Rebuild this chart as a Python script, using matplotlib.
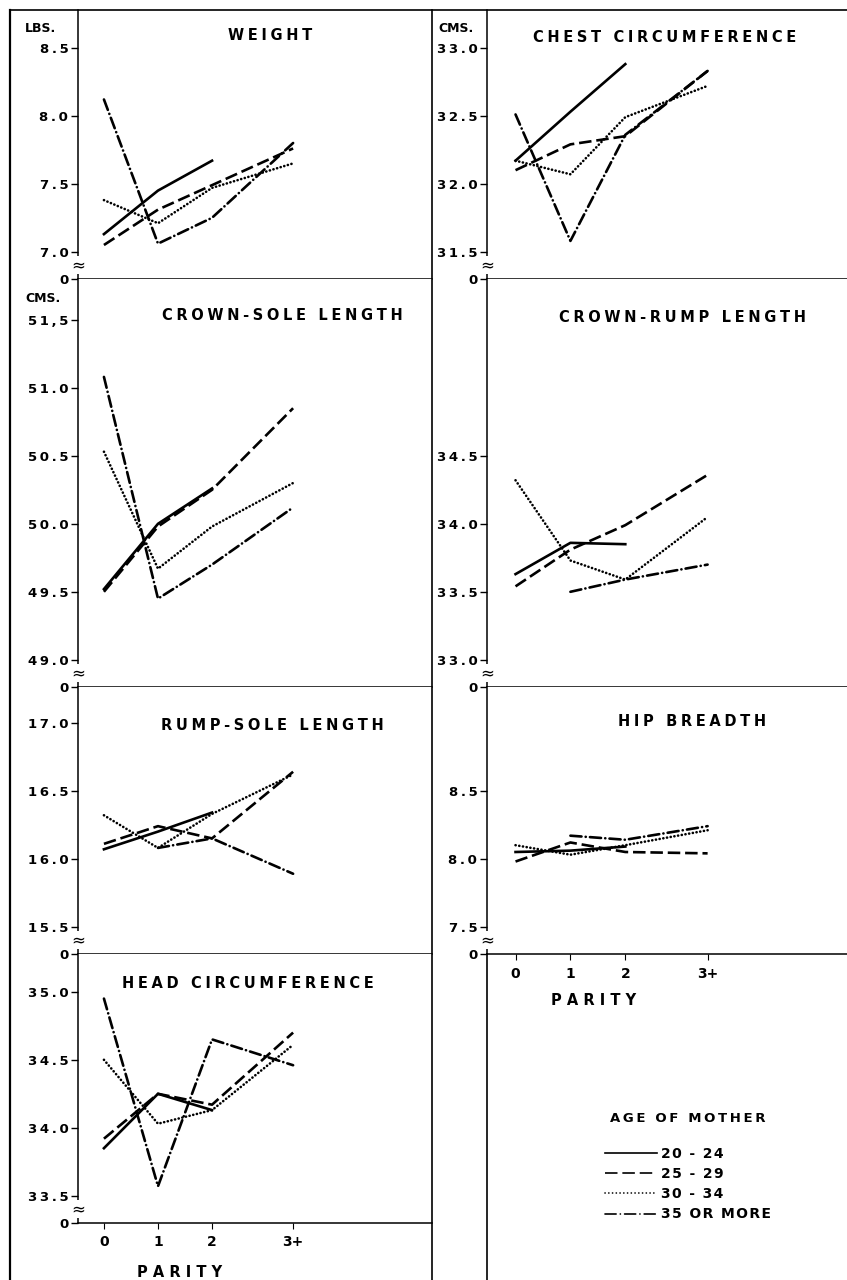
import numpy as np
import matplotlib
matplotlib.use("Agg")
import matplotlib.pyplot as plt
from matplotlib.lines import Line2D

# parity groups; the 3+ group sits further out on the axis, like the original
parity_labels = ["0", "1", "2", "3+"]
parity_pos = [0, 1, 2, 3.5]

age_groups = ["20 - 24", "25 - 29", "30 - 34", "35 OR MORE"]

nan = np.nan
# one row per age group (20-24, 25-29, 30-34, 35+), one value per parity
weight = [[7.13, 7.45, 7.67, nan],
          [7.05, 7.31, 7.49, 7.76],
          [7.38, 7.21, 7.47, 7.65],
          [8.12, 7.06, 7.25, 7.80]]
chest = [[32.17, 32.53, 32.88, nan],
         [32.10, 32.29, 32.35, 32.83],
         [32.17, 32.07, 32.49, 32.72],
         [32.51, 31.58, 32.36, 32.83]]
crown_sole = [[49.52, 50.00, 50.26, nan],
              [49.50, 49.98, 50.25, 50.85],
              [50.53, 49.67, 49.98, 50.30],
              [51.08, 49.45, 49.70, 50.12]]
crown_rump = [[33.63, 33.86, 33.85, nan],
              [33.54, 33.81, 33.99, 34.36],
              [34.32, 33.73, 33.59, 34.05],
              [nan, 33.50, 33.59, 33.70]]
rump_sole = [[16.07, 16.20, 16.34, nan],
             [16.11, 16.24, 16.15, 16.64],
             [16.32, 16.08, 16.33, 16.62],
             [nan, 16.08, 16.15, 15.89]]
hip = [[8.05, 8.06, 8.09, nan],
       [7.98, 8.12, 8.05, 8.04],
       [8.10, 8.03, 8.10, 8.21],
       [nan, 8.17, 8.14, 8.24]]
head = [[33.85, 34.25, 34.13, nan],
        [33.92, 34.25, 34.17, 34.70],
        [34.50, 34.03, 34.13, 34.61],
        [34.95, 33.57, 34.65, 34.46]]

weight_ticks = [7.0, 7.5, 8.0, 8.5]
chest_ticks = [31.5, 32.0, 32.5, 33.0]
crown_sole_ticks = [49.0, 49.5, 50.0, 50.5, 51.0, 51.5]
crown_sole_ticklabels = ["49.0", "49.5", "50.0", "50.5", "51.0", "51,5"]
crown_rump_ticks = [33.0, 33.5, 34.0, 34.5]
rump_sole_ticks = [15.5, 16.0, 16.5, 17.0]
hip_ticks = [7.5, 8.0, 8.5]
head_ticks = [33.5, 34.0, 34.5, 35.0]

plt.rcParams['font.family'] = ['DejaVu Sans']
plt.rcParams['lines.scale_dashes'] = False

W, H = 847, 1280
fig = plt.figure(figsize=(W / 100, H / 100), dpi=100)

styles = [dict(linestyle='-'),
          dict(linestyle=(0, (9, 3.5))),
          dict(linestyle=(0, (0.1, 2.6)), dash_capstyle='round'),
          dict(linestyle=(0, (8, 3, 0.1, 3)), dash_capstyle='round')]

PX_PER_UNIT = 136


def spaced(s, sp='\u2005'):
    # hand lettering in the original is set wide
    return sp.join(s)


def add_px_axes(x0, y0, x1, y1):
    return fig.add_axes([x0 / W, 1 - y1 / H, (x1 - x0) / W, (y1 - y0) / H])


def fig_line(x0, y0, x1, y1, lw=1.2):
    fig.add_artist(Line2D([x0 / W, x1 / W], [1 - y0 / H, 1 - y1 / H],
                          transform=fig.transFigure, color='black', lw=lw))


def draw_panel(rect, series, ticks, title, title_c, ticklabels=None,
               xlim=(-0.48, 6.07), show_x=False, xlabel_c=None):
    x0, y0, x1, y1 = rect
    ax = add_px_axes(*rect)
    for vals, sty in zip(series, styles):
        ax.plot(parity_pos, vals, color='black', lw=1.9, **sty)
    bottom = ticks[0] - 0.2
    top = bottom + (y1 - y0) / PX_PER_UNIT
    ax.set_ylim(bottom, top)
    ax.set_xlim(*xlim)
    if ticklabels is None:
        ticklabels = ["%.1f" % t for t in ticks]
    ax.set_yticks([bottom] + ticks)
    ax.set_yticklabels(["0"] + [spaced(t, '\u2009') for t in ticklabels],
                       fontweight='bold')
    ax.tick_params(axis='y', direction='out', length=5, width=1, labelsize=9.5, pad=2)
    for s in ['top', 'right']:
        ax.spines[s].set_visible(False)
    for s in ['left', 'bottom']:
        ax.spines[s].set_linewidth(1.1)
    # axis break between 0 and the first real tick
    ax.text(0, bottom + 0.1, "≈", transform=ax.get_yaxis_transform(), ha='center',
            va='center', fontsize=12,
            bbox=dict(boxstyle='square,pad=0', fc='white', ec='none'))
    if show_x:
        ax.set_xticks(parity_pos)
        ax.set_xticklabels(parity_labels, fontweight='bold')
        ax.tick_params(axis='x', direction='out', length=4, labelsize=10, pad=5)
        ax.set_xlabel("P A R I T Y", fontsize=10.5, fontweight='bold')
        ax.xaxis.set_label_coords((xlabel_c[0] - x0) / (x1 - x0),
                                  -(xlabel_c[1] - y1) / (y1 - y0))
    else:
        ax.set_xticks([])
    ax.text((title_c[0] - x0) / (x1 - x0), 1 - (title_c[1] - y0) / (y1 - y0),
            spaced(title), transform=ax.transAxes, ha='center', va='center',
            fontsize=10.5, fontweight='bold')
    return ax


L = (78, 432)
R = (487, 847)
rows = [(10, 279), (279, 687), (687, 954), (954, 1223)]
rxlim = (-0.52, 6.04)

draw_panel((L[0], rows[0][0], L[1], rows[0][1]), weight, weight_ticks,
           "WEIGHT", (270, 35))
draw_panel((R[0], rows[0][0], R[1], rows[0][1]), chest, chest_ticks,
           "CHEST CIRCUMFERENCE", (665, 38), xlim=rxlim)
draw_panel((L[0], rows[1][0], L[1], rows[1][1]), crown_sole, crown_sole_ticks,
           "CROWN-SOLE LENGTH", (282, 315), ticklabels=crown_sole_ticklabels)
draw_panel((R[0], rows[1][0], R[1], rows[1][1]), crown_rump, crown_rump_ticks,
           "CROWN-RUMP LENGTH", (682, 317), xlim=rxlim)
draw_panel((L[0], rows[2][0], L[1], rows[2][1]), rump_sole, rump_sole_ticks,
           "RUMP-SOLE LENGTH", (272, 725))
draw_panel((R[0], rows[2][0], R[1], rows[2][1]), hip, hip_ticks,
           "HIP BREADTH", (692, 722), xlim=rxlim, show_x=True, xlabel_c=(594, 993))
draw_panel((L[0], rows[3][0], L[1], rows[3][1]), head, head_ticks,
           "HEAD CIRCUMFERENCE", (248, 983), show_x=True, xlabel_c=(180, 1265))

# unit labels
fig.text(40 / W, 1 - 28 / H, "LBS.", fontsize=9, ha='center', va='center', fontweight='bold')
fig.text(456 / W, 1 - 28 / H, "CMS.", fontsize=9, ha='center', va='center', fontweight='bold')
fig.text(43 / W, 1 - 299 / H, "CMS.", fontsize=9, ha='center', va='center', fontweight='bold')

# outer frame lines of the page
fig_line(10, 10, W, 10)
fig_line(10, 10, 10, H, lw=1.6)
fig_line(432, 10, 432, H)
fig_line(487, 954, 487, H)

handles = [Line2D([], [], color='black', lw=1.2, **sty) for sty in styles]
leg = fig.legend(handles, [spaced(a, '\u200a') for a in age_groups],
                 title=spaced("AGE OF MOTHER", '\u2009') + "\n", loc='upper left',
                 bbox_to_anchor=(592 / W, 1 - 1100 / H), frameon=False,
                 prop=dict(size=10, weight='bold'),
                 title_fontproperties=dict(size=9.5, weight='bold'),
                 handlelength=3.8, handletextpad=0.3, labelspacing=0.45)

fig.savefig("out.png", dpi=100)
